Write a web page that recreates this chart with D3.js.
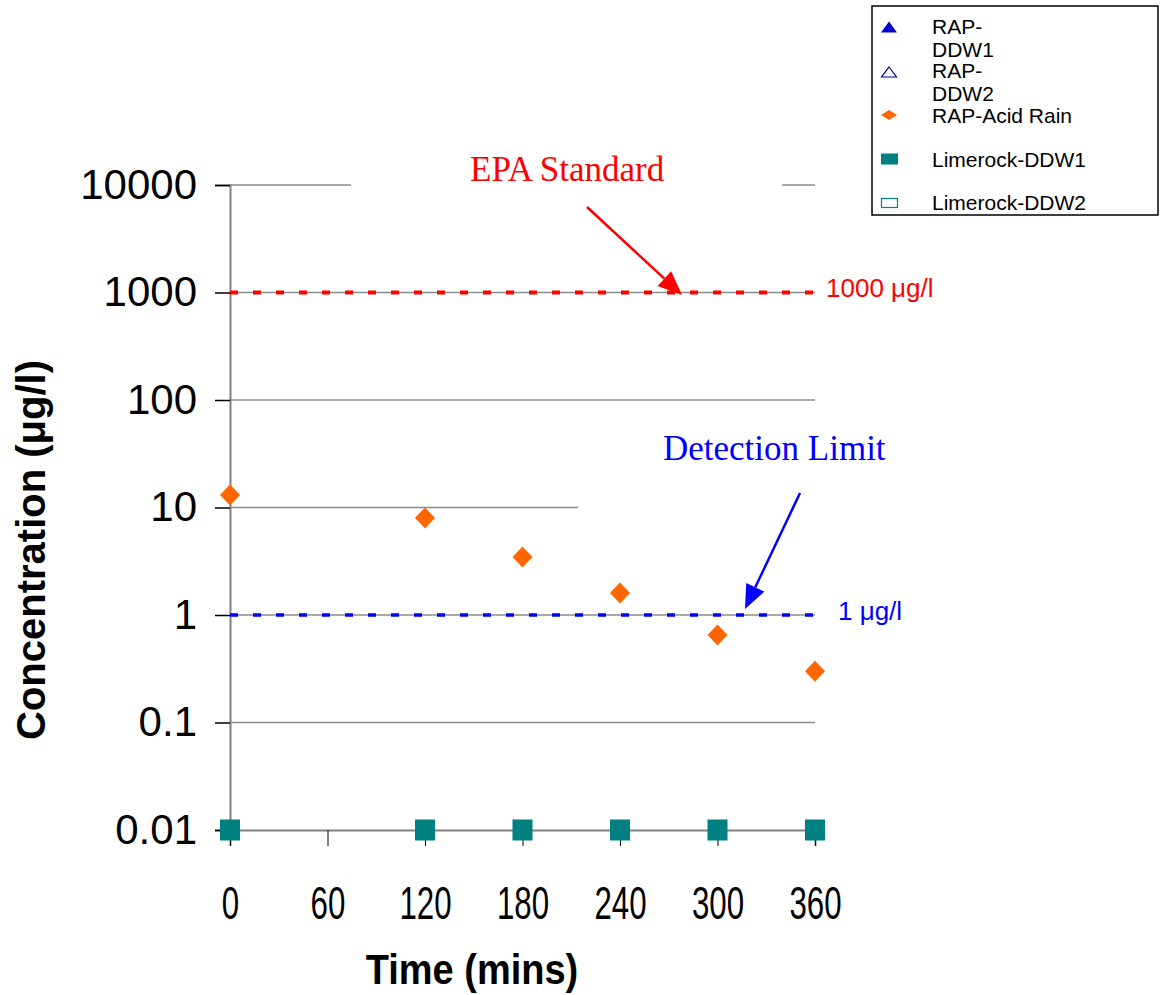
<!DOCTYPE html>
<html>
<head>
<meta charset="utf-8">
<script src="https://cdn.jsdelivr.net/npm/d3@7"></script>
<style>
  html, body { margin: 0; padding: 0; background: #fff; }
  svg { display: block; }
</style>
</head>
<body>
<svg id="chart" width="1163" height="995" font-family="Liberation Sans, Arial, sans-serif"></svg>
<script>
// Sampling times (minutes)
const timeMins = [0, 120, 180, 240, 300, 360];
const xTicks = [0, 60, 120, 180, 240, 300, 360];
const yTicks = [0.01, 0.1, 1, 10, 100, 1000, 10000];

// Series concentrations (µg/l)
const rapDDW1 = [];
const rapDDW2 = [];
const rapAcidRain = [13.1, 8.0, 3.47, 1.6, 0.65, 0.30];
const limerockDDW1 = [0.01, 0.01, 0.01, 0.01, 0.01, 0.01];
const limerockDDW2 = [];

// Reference levels (µg/l)
const epaStandard = 1000;
const detectionLimit = 1;

const legendNames = [["RAP-", "DDW1"], ["RAP-", "DDW2"], ["RAP-Acid Rain"], ["Limerock-DDW1"], ["Limerock-DDW2"]];

const SANS = "Liberation Sans, Arial, sans-serif";
const SERIF = "Liberation Serif, Times New Roman, serif";

const svg = d3.select("#chart");
const x = d3.scaleLinear().domain([0, 360]).range([230, 815]);
const y = d3.scaleLog().domain([0.01, 10000]).range([830, 185]);

// horizontal gridlines
svg.append("g").selectAll("line")
  .data(yTicks.filter(v => v > 0.01))
  .join("line")
  .attr("x1", x(0)).attr("x2", x(360))
  .attr("y1", d => y(d)).attr("y2", d => y(d))
  .attr("stroke", "#8c8c8c").attr("stroke-width", 1.5);

// white backgrounds behind the annotation titles
svg.append("rect").attr("x", 351).attr("y", 140).attr("width", 431).attr("height", 60).attr("fill", "#fff");
svg.append("rect").attr("x", 578).attr("y", 420).attr("width", 330).attr("height", 92).attr("fill", "#fff");

// y axis
const yAxis = d3.axisLeft(y).tickValues(yTicks).tickSize(15).tickPadding(18)
  .tickFormat(d => d >= 1 ? d3.format("d")(d) : String(d));
const gy = svg.append("g").attr("transform", `translate(${x(0)},0)`).call(yAxis);
gy.select(".domain").attr("stroke", "#808080").attr("stroke-width", 2);
gy.selectAll(".tick line").attr("stroke", "#000").attr("stroke-width", 1.5);
gy.selectAll(".tick text").attr("font-size", 42).attr("fill", "#000").attr("font-family", SANS);

// x axis
const xAxis = d3.axisBottom(x).tickValues(xTicks).tickSize(16).tickPadding(40);
const gx = svg.append("g").attr("transform", `translate(0,${y(0.01)})`).call(xAxis);
gx.select(".domain").attr("stroke", "#808080").attr("stroke-width", 2);
gx.selectAll(".tick line").attr("stroke", "#000").attr("stroke-width", 1);
gx.selectAll(".tick text").attr("font-size", 46).attr("fill", "#000").attr("font-family", SANS)
  .attr("transform", "scale(0.68,1)");

// axis titles
svg.append("text").attr("transform", "translate(472,984) scale(1,1.12)").attr("text-anchor", "middle")
  .attr("font-size", 38).attr("font-weight", "bold").attr("font-family", SANS).text("Time (mins)");
svg.append("text").attr("transform", "translate(45,550) rotate(-90)").attr("text-anchor", "middle")
  .attr("font-size", 40).attr("font-weight", "bold").attr("font-family", SANS).text("Concentration (\u03bcg/l)");

// marker shapes
const diamond = (cx, cy, w, h) => `M${cx},${cy - h / 2}L${cx + w / 2},${cy}L${cx},${cy + h / 2}L${cx - w / 2},${cy}Z`;
const triangle = (cx, cy, w, h) => `M${cx},${cy - h / 2}L${cx + w / 2},${cy + h / 2}L${cx - w / 2},${cy + h / 2}Z`;

// Limerock-DDW1 squares
svg.append("g").selectAll("rect")
  .data(timeMins.map((t, i) => [t, limerockDDW1[i]]))
  .join("rect")
  .attr("x", d => x(d[0]) - 10).attr("y", d => y(d[1]) - 10.5)
  .attr("width", 20).attr("height", 21).attr("fill", "#008080");

// RAP-Acid Rain diamonds
svg.append("g").selectAll("path")
  .data(timeMins.map((t, i) => [t, rapAcidRain[i]]))
  .join("path")
  .attr("d", d => diamond(x(d[0]), y(d[1]), 20, 21))
  .attr("fill", "#ff6600");

// reference lines
svg.append("line").attr("x1", x(0)).attr("x2", x(360))
  .attr("y1", y(epaStandard)).attr("y2", y(epaStandard))
  .attr("stroke", "#ff0000").attr("stroke-width", 4).attr("stroke-dasharray", "8,15");
svg.append("line").attr("x1", x(0)).attr("x2", x(360))
  .attr("y1", y(detectionLimit)).attr("y2", y(detectionLimit))
  .attr("stroke", "#0000ff").attr("stroke-width", 3.5).attr("stroke-dasharray", "8,15");

// reference labels
svg.append("text").attr("x", 826).attr("y", y(epaStandard) + 4).attr("font-size", 26)
  .attr("font-family", SANS).attr("fill", "#ff0000").text("1000 \u03bcg/l");
svg.append("text").attr("x", 838).attr("y", y(detectionLimit) + 5).attr("font-size", 26)
  .attr("font-family", SANS).attr("fill", "#0000ff").text("1 \u03bcg/l");

// annotation titles
svg.append("text").attr("x", 470).attr("y", 181).attr("font-size", 35)
  .attr("font-family", SERIF).attr("fill", "#ff0000").text("EPA Standard");
svg.append("text").attr("x", 663).attr("y", 460).attr("font-size", 35)
  .attr("font-family", SERIF).attr("fill", "#0000ff").text("Detection Limit");

// arrows
function arrow(x1, y1, x2, y2, color) {
  const len = Math.hypot(x2 - x1, y2 - y1);
  const ux = (x2 - x1) / len, uy = (y2 - y1) / len;
  const hl = 24, hw = 10;
  const bx = x2 - ux * hl, by = y2 - uy * hl;
  svg.append("line").attr("x1", x1).attr("y1", y1).attr("x2", bx).attr("y2", by)
    .attr("stroke", color).attr("stroke-width", 2.5);
  svg.append("path")
    .attr("d", `M${x2},${y2}L${bx - uy * hw},${by + ux * hw}L${bx + uy * hw},${by - ux * hw}Z`)
    .attr("fill", color);
}
arrow(587, 207, 682, 295, "#ff0000");
arrow(800, 493, 745, 609, "#0000ff");

// legend
const lg = svg.append("g");
lg.append("rect").attr("x", 872).attr("y", 6).attr("width", 286).attr("height", 209)
  .attr("fill", "#fff").attr("stroke", "#000").attr("stroke-width", 1.5);
const lgMarkerY = [27, 72, 115, 159, 203];
const lgTextY = [[34, 57], [78, 101], [123], [167], [210]];
lg.append("path").attr("d", triangle(889, lgMarkerY[0], 16, 11)).attr("fill", "#0000cc");
lg.append("path").attr("d", triangle(889, lgMarkerY[1], 15, 10)).attr("fill", "#fff")
  .attr("stroke", "#000080").attr("stroke-width", 1.2);
lg.append("path").attr("d", diamond(889, lgMarkerY[2], 16, 10)).attr("fill", "#ff6600");
lg.append("rect").attr("x", 881).attr("y", lgMarkerY[3] - 5.5).attr("width", 17).attr("height", 11).attr("fill", "#008080");
lg.append("rect").attr("x", 881.5).attr("y", lgMarkerY[4] - 4.5).attr("width", 16).attr("height", 9)
  .attr("fill", "#fff").attr("stroke", "#008080").attr("stroke-width", 1.2);
legendNames.forEach((lines, i) => {
  lines.forEach((s, j) => {
    lg.append("text").attr("x", 932).attr("y", lgTextY[i][j]).attr("font-size", 21)
      .attr("font-family", SANS).attr("fill", "#000").text(s);
  });
});
</script>
</body>
</html>
